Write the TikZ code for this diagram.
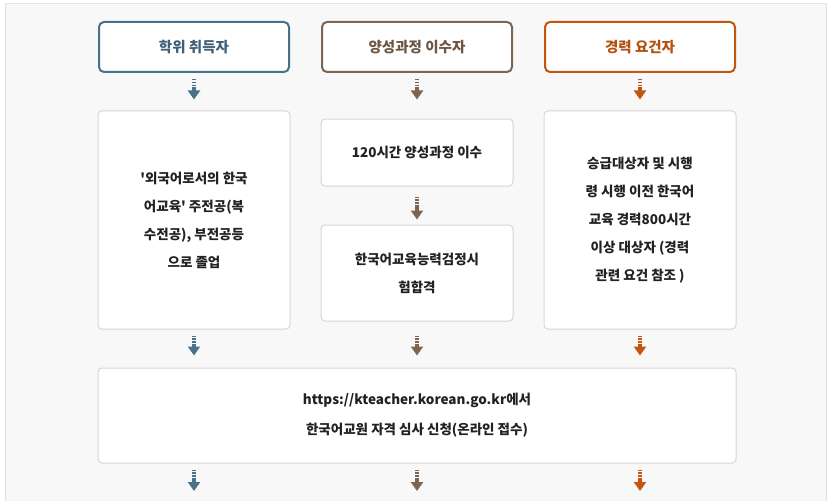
\documentclass[tikz,border=0pt]{standalone}
\usepackage{fontspec}
\newfontfamily\kr{Noto Sans CJK KR}
\usetikzlibrary{arrows.meta}
\definecolor{cblue}{HTML}{4B7189}
\definecolor{cbrown}{HTML}{7C6552}
\definecolor{corange}{HTML}{C2560E}
\definecolor{tblue}{HTML}{3F6078}
\definecolor{tbrown}{HTML}{6C5644}
\definecolor{torange}{HTML}{B4500F}
\definecolor{bgpanel}{HTML}{F8F8F8}
\definecolor{panelline}{HTML}{E2E2E2}
\definecolor{boxline}{HTML}{D6D6D6}
\definecolor{txt}{HTML}{222222}
\tikzset{
  head/.style={draw, line width=2pt, fill=white, rounded corners=5pt,
    minimum width=190pt, minimum height=50pt, inner sep=0pt,
    font=\kr\bfseries\fontsize{14.5}{16}\selectfont},
  card/.style={draw=boxline, line width=1pt, fill=white, rounded corners=4pt,
    inner sep=0pt, align=center, text=txt,
    font=\kr\bfseries\fontsize{13.5}{28}\selectfont},
  flowarrow/.style={line width=3.2pt,
    dash pattern=on 1.4pt off 1.4pt on 1.4pt off 1.4pt on 1.4pt off 1.4pt on 40pt off 0pt,
    -{Triangle[width=12pt,length=9pt]}}
}
\begin{document}
\begin{tikzpicture}[x=1pt,y=-1pt]
\useasboundingbox (0,0) rectangle (834,500);
\fill[white] (0,0) rectangle (834,500);
\draw[panelline, fill=bgpanel, line width=1pt] (5,4) rectangle (826,510);
% headers
\node[head, draw=cblue, text=tblue] (h1) at (194,47) {학위 취득자};
\node[head, draw=cbrown, text=tbrown] (h2) at (417,47) {양성과정 이수자};
\node[head, draw=corange, text=torange] (h3) at (640,47) {경력 요건자};
% cards
\node[card, minimum width=192pt, minimum height=218pt] (b1) at (194,220)
  {'외국어로서의 한국\\어교육' 주전공(복\\수전공), 부전공등\\으로 졸업};
\node[card, minimum width=192pt, minimum height=67pt] (m1) at (417,152.5)
  {120시간 양성과정 이수};
\node[card, minimum width=192pt, minimum height=96pt] (m2) at (417,273)
  {한국어교육능력검정시\\험합격};
\node[card, minimum width=192pt, minimum height=218pt] (b3) at (640,220)
  {승급대상자 및 시행\\령 시행 이전 한국어\\교육 경력800시간\\이상 대상자 (경력\\관련 요건 참조 )};
\node[card, minimum width=638pt, minimum height=95pt, font=\kr\bfseries\fontsize{13.5}{30}\selectfont] (fin) at (417,415.5)
  {https://kteacher.korean.go.kr에서\\한국어교원 자격 심사 신청(온라인 접수)};
% arrow end coordinates below final box
\coordinate (e1) at (194,491);
\coordinate (e2) at (417,491);
\coordinate (e3) at (640,491);
% arrows
\draw[flowarrow, cblue] ([yshift=-6pt]h1.south) -- ([yshift=11pt]b1.north);
\draw[flowarrow, cbrown] ([yshift=-6pt]h2.south) -- ([yshift=19pt]m1.north);
\draw[flowarrow, corange] ([yshift=-6pt]h3.south) -- ([yshift=11pt]b3.north);
\draw[flowarrow, cbrown] ([yshift=-10pt]m1.south) -- ([yshift=5pt]m2.north);
\draw[flowarrow, cblue] ([yshift=-6pt]b1.south) -- ([yshift=12pt]fin.north -| b1.south);
\draw[flowarrow, cbrown] ([yshift=-14pt]m2.south) -- ([yshift=12pt]fin.north);
\draw[flowarrow, corange] ([yshift=-6pt]b3.south) -- ([yshift=12pt]fin.north -| b3.south);
\draw[flowarrow, cblue] ([yshift=-6pt]fin.south -| b1.south) -- (e1);
\draw[flowarrow, cbrown] ([yshift=-6pt]fin.south) -- (e2);
\draw[flowarrow, corange] ([yshift=-6pt]fin.south -| b3.south) -- (e3);
\end{tikzpicture}
\end{document}
